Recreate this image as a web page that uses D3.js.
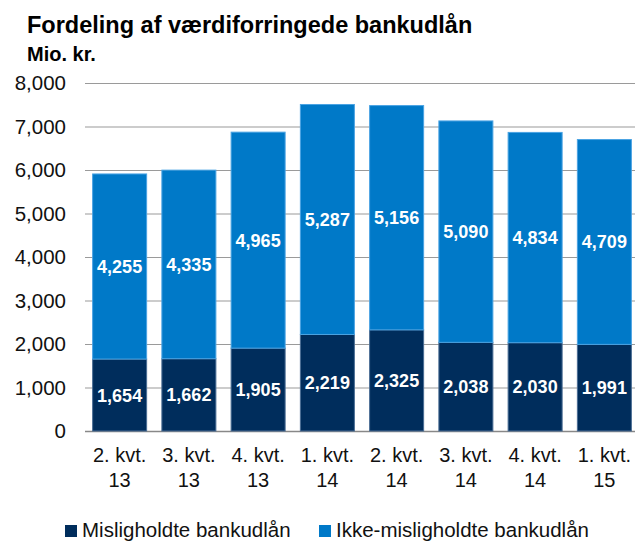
<!DOCTYPE html>
<html>
<head>
<meta charset="utf-8">
<script src="https://cdn.jsdelivr.net/npm/d3@7"></script>
<style>
  body { margin: 0; background: #fff; }
  text { font-family: "Liberation Sans", Arial, sans-serif; }
</style>
</head>
<body>
<div id="container"></div>
<script>
//DATA
const quarters = ["2. kvt.|13", "3. kvt.|13", "4. kvt.|13", "1. kvt.|14", "2. kvt.|14", "3. kvt.|14", "4. kvt.|14", "1. kvt.|15"];
const misligholdte = [1654, 1662, 1905, 2219, 2325, 2038, 2030, 1991];
const ikkeMisligholdte = [4255, 4335, 4965, 5287, 5156, 5090, 4834, 4709];
const seriesNames = ["Misligholdte bankudlån", "Ikke-misligholdte bankudlån"];
const yTicks = [0, 1000, 2000, 3000, 4000, 5000, 6000, 7000, 8000];

//CONSTANTS
const width = 635, height = 541;
const margin = {top: 83, bottom: 110, left: 85, right: -4};
const colors = ["#002d5c", "#0079c8"];
const strokes = ["#4a6d94", "#4aa3e3"];

const svg = d3.select("#container")
  .append("svg")
  .attr("width", width)
  .attr("height", height);

// title
svg.append("text")
  .attr("x", 27).attr("y", 33)
  .style("font-size", "23.5px").style("font-weight", "bold")
  .text("Fordeling af værdiforringede bankudlån");
svg.append("text")
  .attr("x", 27).attr("y", 61)
  .style("font-size", "20px").style("font-weight", "bold")
  .text("Mio. kr.");

//SCALES
const xScale = d3.scaleBand()
  .domain(quarters)
  .range([margin.left, width - margin.right])
  .paddingInner(0.22)
  .paddingOuter(0.11);

const yScale = d3.scaleLinear()
  .domain([0, 8000])
  .range([height - margin.bottom, margin.top]);

// gridlines
svg.append("g")
  .selectAll("line")
  .data(yTicks)
  .join("line")
  .attr("x1", margin.left)
  .attr("x2", width)
  .attr("y1", d => yScale(d) + 0.5)
  .attr("y2", d => yScale(d) + 0.5)
  .attr("stroke", d => d === 0 ? "#888" : "#9a9a9a")
  .attr("stroke-width", d => d === 0 ? 1.5 : 1.2);

// y axis labels
const fmt = d3.format(",");
svg.append("g")
  .selectAll("text")
  .data(yTicks)
  .join("text")
  .attr("x", 66)
  .attr("y", d => yScale(d))
  .attr("dy", "0.36em")
  .attr("text-anchor", "end")
  .style("font-size", "20.5px")
  .attr("fill", "#111")
  .text(d => fmt(d));

// stacked data
const rows = quarters.map((q, i) => ({q: q, a: misligholdte[i], b: ikkeMisligholdte[i]}));
const stacked = d3.stack().keys(["a", "b"])(rows);

const layers = svg.append("g")
  .selectAll("g")
  .data(stacked)
  .join("g")
  .attr("fill", (d, i) => colors[i])
  .attr("stroke", (d, i) => strokes[i]);

layers.selectAll("rect")
  .data(d => d)
  .join("rect")
  .attr("x", d => xScale(d.data.q))
  .attr("width", xScale.bandwidth())
  .attr("y", d => yScale(d[1]))
  .attr("height", d => yScale(d[0]) - yScale(d[1]))
  .attr("stroke-width", 1);

// data labels
layers.selectAll("text")
  .data(d => d)
  .join("text")
  .attr("x", d => xScale(d.data.q) + xScale.bandwidth() / 2)
  .attr("y", d => (yScale(d[0]) + yScale(d[1])) / 2)
  .attr("dy", "0.36em")
  .attr("text-anchor", "middle")
  .attr("stroke", "none")
  .attr("fill", "#fff")
  .style("font-size", "18px")
  .style("font-weight", "bold")
  .text(d => fmt(d[1] - d[0]));

// x axis labels
const xLabels = svg.append("g")
  .selectAll("text")
  .data(quarters)
  .join("text")
  .attr("x", d => xScale(d) + xScale.bandwidth() / 2)
  .attr("y", 462)
  .attr("text-anchor", "middle")
  .style("font-size", "20px")
  .attr("fill", "#111");
xLabels.append("tspan")
  .attr("x", d => xScale(d) + xScale.bandwidth() / 2)
  .text(d => d.split("|")[0]);
xLabels.append("tspan")
  .attr("x", d => xScale(d) + xScale.bandwidth() / 2)
  .attr("dy", 25)
  .text(d => d.split("|")[1]);

// legend
const legendX = [65, 319];
const legend = svg.append("g")
  .selectAll("g")
  .data(seriesNames)
  .join("g")
  .attr("transform", (d, i) => `translate(${legendX[i]}, 525)`);
legend.append("rect")
  .attr("width", 12).attr("height", 12)
  .attr("fill", (d, i) => colors[i]);
legend.append("text")
  .attr("x", 17).attr("y", 12)
  .style("font-size", "20.5px")
  .attr("fill", "#111")
  .text(d => d);
</script>
</body>
</html>
